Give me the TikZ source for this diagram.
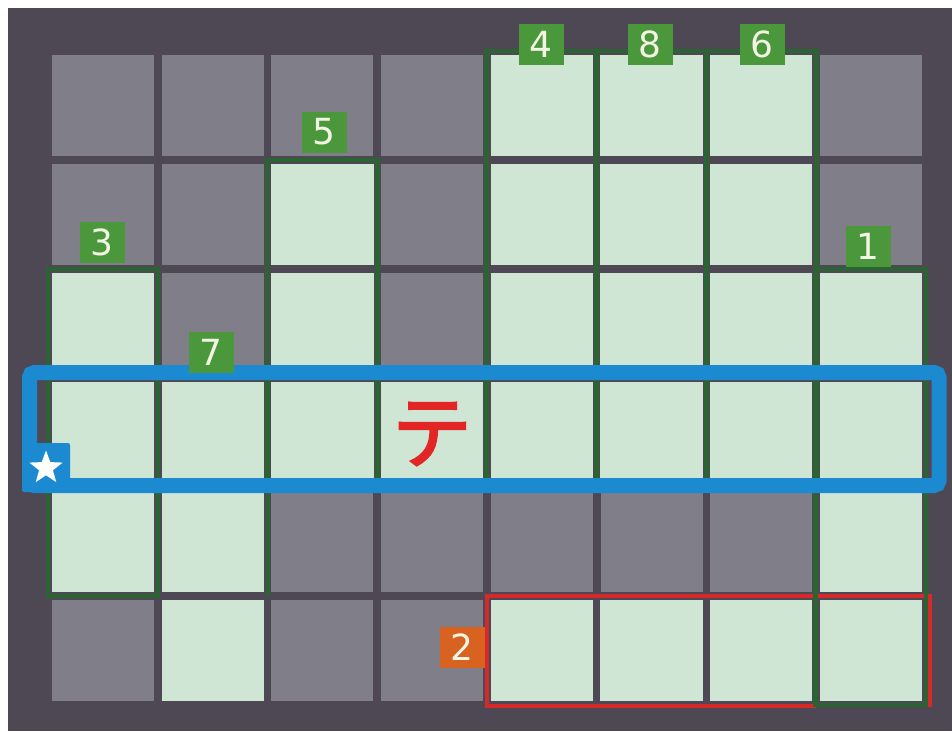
\documentclass[tikz,border=0pt]{standalone}
\usepackage{fontspec}
\setmainfont{DejaVu Sans}
\newfontfamily\jpfont[FakeBold=2.5]{Noto Sans CJK JP}
\usetikzlibrary{shapes.geometric,calc}
\definecolor{board}{HTML}{4D4854}
\definecolor{graycell}{HTML}{7F7E89}
\definecolor{lightcell}{HTML}{D0E6D4}
\definecolor{grpgreen}{HTML}{2B6333}
\definecolor{labgreen}{HTML}{4A973C}
\definecolor{labtext}{HTML}{F2F4E4}
\definecolor{laborange}{HTML}{D8621F}
\definecolor{redline}{HTML}{D62A2A}
\definecolor{bluec}{HTML}{1C8AD0}
\definecolor{tered}{HTML}{E22626}
\tikzset{
  cellbox/.style={minimum width=102pt,minimum height=101pt,inner sep=0pt,draw=none},
  grp/.style={draw=grpgreen,line width=4.5pt},
  lab/.style={fill=labgreen,text=labtext,minimum width=45pt,minimum height=41pt,inner sep=0pt,font=\fontsize{36}{36}\selectfont},
  redgrp/.style={draw=redline,line width=4pt},
  blueframe/.style={draw=bluec,line width=15pt,rounded corners=5pt}
}
\newcommand\grouprect[2]{\draw[grp] ($(#1.north west)+(-4,-4)$) rectangle ($(#2.south east)+(4,4)$);}
\begin{document}
\begin{tikzpicture}[x=1pt,y=-1pt]
\useasboundingbox (0,0) rectangle (952,731);
\fill[white] (0,0) rectangle (952,731);
\fill[board] (8,8) rectangle (952,731);
% all cells gray
\foreach \i in {0,...,7}{
  \foreach \j in {0,...,5}{
    \pgfmathsetmacro\cx{52+109.7*\i+51}
    \pgfmathsetmacro\cy{55+109*\j+50.5}
    \node[cellbox,fill=graycell] (c\i\j) at (\cx,\cy) {};
  }
}
% light cells
\foreach \i/\j in {4/0,5/0,6/0,2/1,4/1,5/1,6/1,0/2,2/2,4/2,5/2,6/2,7/2,
  0/3,1/3,2/3,3/3,4/3,5/3,6/3,7/3,0/4,1/4,7/4,1/5,4/5,5/5,6/5,7/5}{
  \fill[lightcell] (c\i\j.north west) rectangle (c\i\j.south east);
}
% green groups
\grouprect{c02}{c04}
\grouprect{c21}{c23}
\grouprect{c40}{c43}
\grouprect{c50}{c53}
\grouprect{c60}{c63}
\draw[grp] ($(c13.north east)+(4,-4)$) -- ($(c14.south east)+(4,4)$);
% red group
\draw[redgrp] ($(c75.south west)+(-4,5)$) -- ($(c45.south west)+(-4,5)$) -- ($(c45.north west)+(-4,-4)$) -- ($(c75.north east)+(8,-4)$) -- ($(c75.south east)+(8,6)$);
\grouprect{c72}{c75}
% blue frame
\draw[blueframe] (29.5,372.5) rectangle (939,485.5);
\fill[bluec,rounded corners=2pt] (22,443) rectangle (70,492);
\node[star,star points=5,star point ratio=2.4,fill=white,minimum size=35pt,inner sep=0pt] (st) at (46,468) {};
\node[text=tered,font=\jpfont\fontsize{80}{80}\selectfont,inner sep=0pt] (te) at (432,434) {テ};
% labels
\node[lab] (l4) at (541,44) {4};
\node[lab] (l8) at (650,44) {8};
\node[lab] (l6) at (762,44) {6};
\node[lab] (l5) at (324,132) {5};
\node[lab] (l3) at (102,242) {3};
\node[lab] (l1) at (868,246) {1};
\node[lab] (l7) at (211,352) {7};
\node[lab,fill=laborange] (l2) at (462,647) {2};
\end{tikzpicture}
\end{document}
